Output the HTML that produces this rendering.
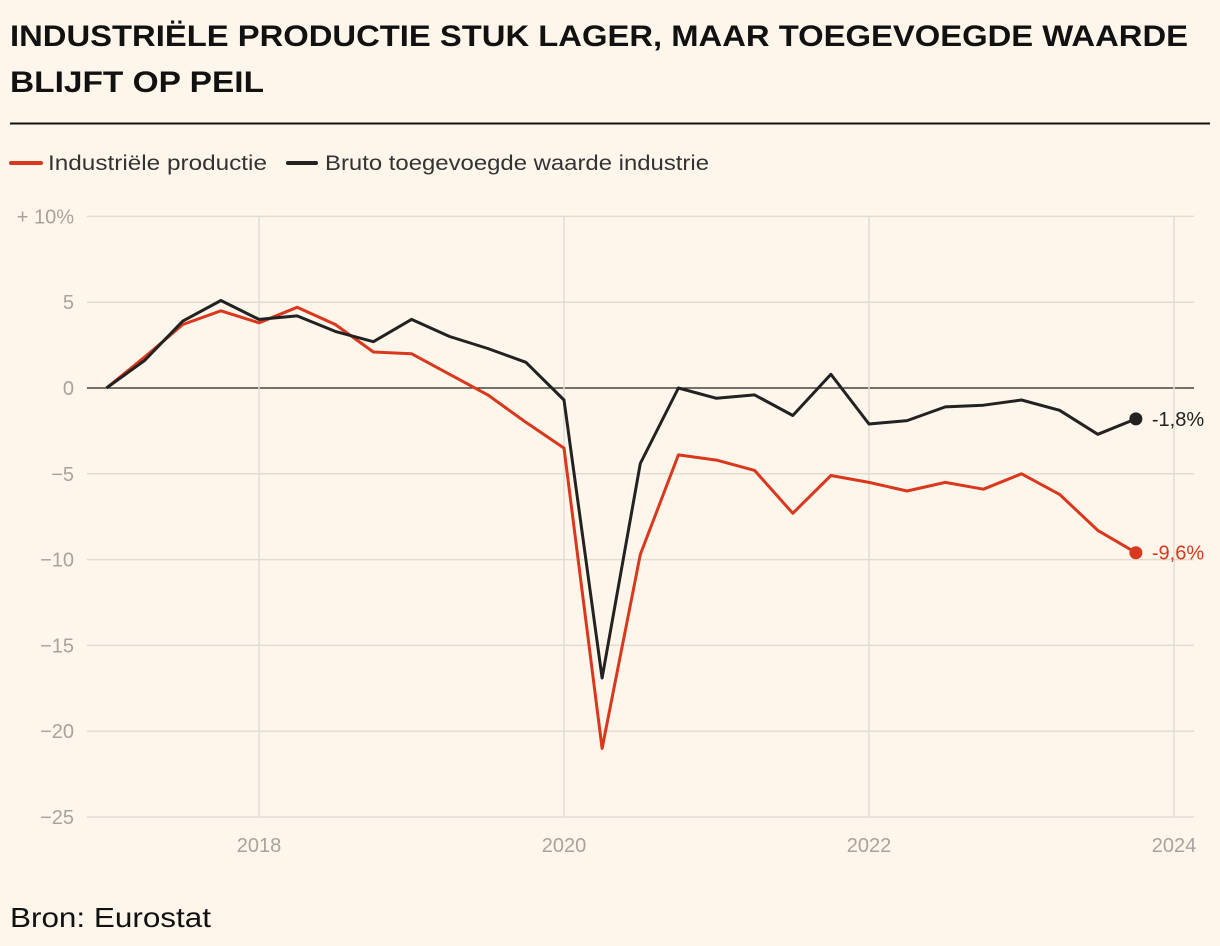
<!DOCTYPE html>
<html><head><meta charset="utf-8"><style>
html,body{margin:0;padding:0;background:#fef6ea;}
svg{display:block;font-family:"Liberation Sans",sans-serif;}
</style></head><body>
<svg id="c" width="1220" height="946">
<rect width="1220" height="946" fill="#fef6ea"/>
<text x="10" y="46" font-size="30" font-weight="bold" fill="#111" textLength="1178" lengthAdjust="spacingAndGlyphs">INDUSTRIËLE PRODUCTIE STUK LAGER, MAAR TOEGEVOEGDE WAARDE</text>
<text x="10" y="92" font-size="30" font-weight="bold" fill="#111" textLength="254" lengthAdjust="spacingAndGlyphs">BLIJFT OP PEIL</text>
<line x1="10" x2="1210" y1="123.5" y2="123.5" stroke="#111" stroke-width="2"/>
<g>
<line x1="11" x2="41" y1="163" y2="163" stroke="#d9381e" stroke-width="4" stroke-linecap="round"/>
<text x="48" y="170" font-size="21" fill="#333" textLength="219" lengthAdjust="spacingAndGlyphs">Industriële productie</text>
<line x1="288" x2="316" y1="163" y2="163" stroke="#222" stroke-width="4" stroke-linecap="round"/>
<text x="325" y="170" font-size="21" fill="#333" textLength="384" lengthAdjust="spacingAndGlyphs">Bruto toegevoegde waarde industrie</text>
</g>
<g id="grid"></g><g id="series"></g>
<text x="10" y="927" font-size="28" fill="#111" textLength="201" lengthAdjust="spacingAndGlyphs">Bron: Eurostat</text>
</svg>
<script>
const yTicks=[10,5,0,-5,-10,-15,-20,-25];
const yTickLabels=["+\u00a010%","5","0","\u22125","\u221210","\u221215","\u221220","\u221225"];
const xTicks=[2018,2020,2022,2024];
const dates=[];for(let i=0;i<28;i++)dates.push(2017+i/4);
const industrial=[0,1.8,3.7,4.5,3.8,4.7,3.7,2.1,2.0,0.8,-0.4,-2.0,-3.5,-21.0,-9.7,-3.9,-4.2,-4.8,-7.3,-5.1,-5.5,-6.0,-5.5,-5.9,-5.0,-6.2,-8.3,-9.6];
const valueAdded=[0,1.6,3.9,5.1,4.0,4.2,3.3,2.7,4.0,3.0,2.3,1.5,-0.7,-16.9,-4.4,0.0,-0.6,-0.4,-1.6,0.8,-2.1,-1.9,-1.1,-1.0,-0.7,-1.3,-2.7,-1.8];
const endLabels=["-9,6%","-1,8%"];
const NS="http://www.w3.org/2000/svg";
const X=d=>259+(d-2018)*152.5;
const Y=v=>388-v*17.16;
function mk(tag,attrs,parent){const e=document.createElementNS(NS,tag);for(const k in attrs)e.setAttribute(k,attrs[k]);parent.appendChild(e);return e;}
const g=document.getElementById('grid'),s=document.getElementById('series');
yTicks.forEach((t,i)=>{
 const l=mk('line',{x1:87,x2:1194,y1:Y(t),y2:Y(t),stroke:t===0?'#222':'#e2ddd3','stroke-width':t===0?1.2:1.5},g);
 
 
 const tx=mk('text',{x:74,y:Y(t)+7,'text-anchor':'end','font-size':20,fill:'#a8a39c'},g);
 tx.textContent=yTickLabels[i];
 
 
});
xTicks.forEach(t=>{
 const l=mk('line',{x1:X(t),x2:X(t),y1:Y(10),y2:Y(-25),stroke:'#e2ddd3','stroke-width':1.5},g);
 
 
 const tx=mk('text',{x:X(t),y:852,'text-anchor':'middle','font-size':20,fill:'#a8a39c'},g);
 tx.textContent=t;
 
 
});
[[industrial,'#d9381e','industrial'],[valueAdded,'#222','value-added']].forEach(([vals,col,nm],k)=>{
 const p=mk('path',{d:vals.map((v,i)=>(i?'L':'M')+X(dates[i]).toFixed(1)+','+Y(v).toFixed(1)).join(''),fill:'none',stroke:col,'stroke-width':3,'stroke-linejoin':'round'},s);
 
 
 const n=vals.length-1;
 const c=mk('circle',{cx:X(dates[n]),cy:Y(vals[n]),r:6.5,fill:col},s);
 
 
 const t=mk('text',{x:X(dates[n])+16,y:Y(vals[n])+7,'font-size':20,fill:col},s);
 t.textContent=endLabels[k];
 
 
});
</script>
</body></html>
